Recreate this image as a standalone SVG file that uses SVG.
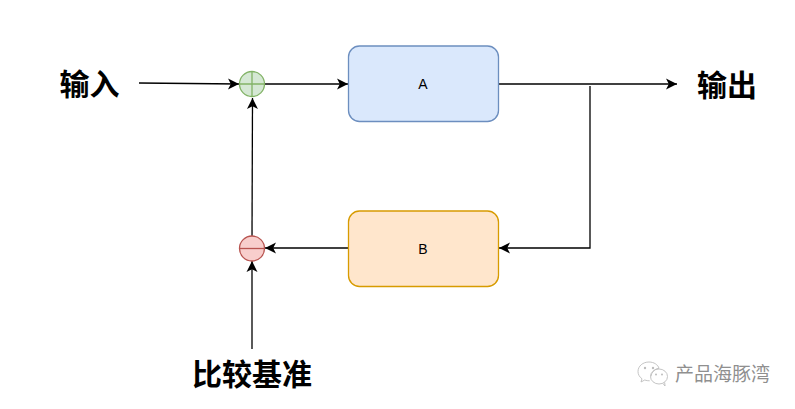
<svg xmlns="http://www.w3.org/2000/svg" width="795" height="409" viewBox="0 0 795 409">
<style>
text{font-family:"Liberation Sans","Noto Sans CJK SC",sans-serif;text-anchor:middle}
.big{font-family:"Noto Sans CJK SC",sans-serif;font-size:30px;font-weight:700;fill:#000}
.lab{font-size:14px;fill:#000}
.c{fill:none;stroke:#000;stroke-width:1.300;marker-end:url(#a)}
.gl{stroke:#82b366;stroke-width:1.300;fill:none}
.rl{stroke:#b85450;stroke-width:1.300;fill:none}
</style>
<defs>
<marker id="a" markerUnits="userSpaceOnUse" markerWidth="13" markerHeight="12" refX="11.500" refY="6" orient="auto"><path d="M0.500 0.500L11.500 6L0.500 11.500L3.300 6Z" fill="#000"/></marker>
</defs>
<rect width="795" height="409" fill="#fff"/>
<g id="connectors">
<path class="c" d="M139 83L239 84"/>
<path class="c" d="M265 84H348"/>
<path class="c" d="M498 84H677"/>
<path class="c" d="M590 86V248H499"/>
<path class="c" d="M348 248H265"/>
<path class="c" d="M252 236L252.500 98"/>
<path class="c" d="M252 349V261"/>
</g>
<g id="sum-green">
<circle cx="252" cy="84" r="12.500" fill="#d5e8d4" stroke="#82b366" stroke-width="1.300"/>
<path class="gl" d="M239.500 84H264.500M252 71.500V96.500"/>
</g>
<g id="sum-red">
<circle cx="252" cy="248.500" r="12.500" fill="#f8cecc" stroke="#b85450" stroke-width="1.300"/>
<path class="rl" d="M239.500 248.500H264.500"/>
</g>
<g id="node-a">
<rect x="348.500" y="46" width="150" height="75.500" rx="11" fill="#dae8fc" stroke="#6c8ebf" stroke-width="1.300"/>
<text class="lab" x="423" y="89">A</text>
</g>
<g id="node-b">
<rect x="348.500" y="211" width="150" height="75.500" rx="11" fill="#ffe6cc" stroke="#d79b00" stroke-width="1.300"/>
<text class="lab" x="423" y="254">B</text>
</g>
<g id="label-in"><text class="big" x="89.500" y="95">输入</text></g>
<g id="label-out"><text class="big" x="727" y="96">输出</text></g>
<g id="label-base"><text class="big" x="252" y="385">比较基准</text></g>
<g id="watermark">
<g fill="none" stroke="#bdbdbd" stroke-width="0.900">
<path d="M651 376.500c0-1 .3-2 .8-3 1.500-3 4-5 7.200-5.200-1-3.500-5-6.300-10-6.300-6 0-11 4-11 9.500 0 3 1.500 5.500 4 7.300l-1 3.200 3.700-2c1.700 .6 3.300 .8 5 .8"/>
<ellipse cx="659" cy="376.500" rx="8.500" ry="7.500"/>
<path d="M663 383.500l2 2.500-.3-3.500"/>
</g>
<g fill="#bdbdbd"><circle cx="645" cy="368" r="1.200"/><circle cx="653" cy="368" r="1.200"/><circle cx="656" cy="374.500" r="1"/><circle cx="662" cy="374.500" r="1"/></g>
<text x="722.500" y="381" font-size="19px" fill="#8f8f8f" style="font-family:'Noto Sans CJK SC',sans-serif">产品海豚湾</text>
</g>
</svg>
